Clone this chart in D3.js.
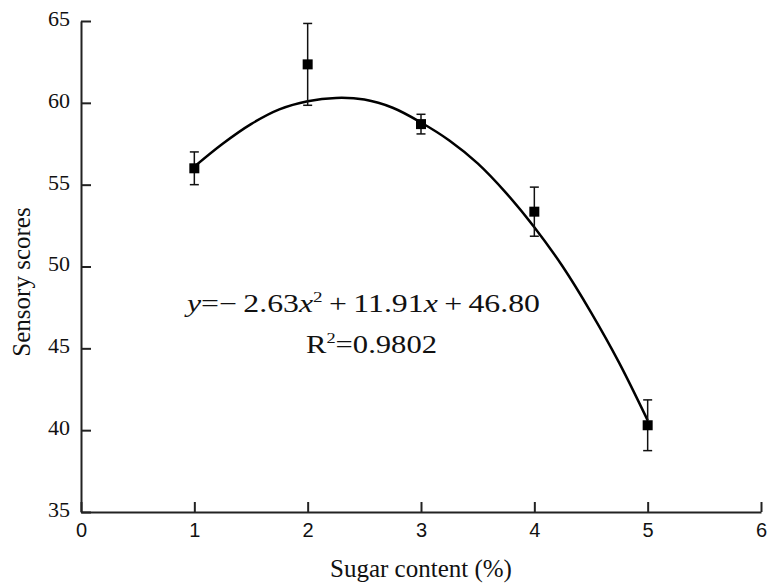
<!DOCTYPE html>
<html lang="en">
<head>
<meta charset="UTF-8">
<title>Sensory scores vs sugar content</title>
<script src="https://d3js.org/d3.v7.min.js"></script>
<style>
    body { margin: 0; padding: 0; background: #fff; }
    .serif { font-family: "Liberation Serif", "Times New Roman", serif; fill: #111; }
    .axis path, .axis line { stroke: #222; stroke-width: 2px; }
    .x-axis text { font-family: "Liberation Sans", Arial, sans-serif; font-size: 20px; fill: #111; }
    .y-axis text { font-family: "Liberation Serif", "Times New Roman", serif; font-size: 22px; fill: #111; }
    .fit { fill: none; stroke: #000; stroke-width: 2.5px; }
    .err { stroke: #111; stroke-width: 1.5px; }
</style>
</head>
<body>
<div id="chart"></div>
<script>
    // data
    var sugar = [1, 2, 3, 4, 5];
    var scores = [56.0, 62.35, 58.7, 53.35, 40.3];
    var errors = [1.0, 2.5, 0.6, 1.5, 1.55];

    // fitted curve
    var fitX = [1, 1.25, 1.5, 1.75, 2, 2.25, 2.5, 2.75, 3, 3.25, 3.5, 3.75, 4, 4.25, 4.5, 4.75, 5];
    var fitY = [56.1, 57.5, 58.7, 59.6, 60.1, 60.3, 60.2, 59.7, 58.8, 57.7, 56.3, 54.5, 52.4, 50.0, 47.2, 44.1, 40.6];

    var xTicks = [0, 1, 2, 3, 4, 5, 6];
    var yTicks = [35, 40, 45, 50, 55, 60, 65];

    var width = 767, height = 585;
    var margin = {top: 21, right: 6, bottom: 73, left: 81};
    var w = width - margin.left - margin.right,
        h = height - margin.top - margin.bottom;

    var svg = d3.select("#chart").append("svg")
        .attr("width", width)
        .attr("height", height);

    var g = svg.append("g")
        .attr("transform", "translate(" + margin.left + "," + margin.top + ")");

    var x = d3.scaleLinear().domain([0, 6]).range([0, w]);
    var y = d3.scaleLinear().domain([35, 65]).range([h, 0]);

    // axes, ticks point inward
    g.append("g")
        .attr("class", "axis x-axis")
        .attr("transform", "translate(0," + h + ")")
        .call(d3.axisBottom(x).tickValues(xTicks).tickFormat(d3.format("d"))
            .tickSizeInner(-10).tickSizeOuter(0).tickPadding(11));

    g.append("g")
        .attr("class", "axis y-axis")
        .call(d3.axisLeft(y).tickValues(yTicks).tickFormat(d3.format("d"))
            .tickSizeInner(-10).tickSizeOuter(0).tickPadding(11))
        .selectAll("text")
        .attr("dy", "0.2em");

    // fitted curve
    var fit = fitX.map(function(d, i) { return {x: d, y: fitY[i]}; });
    g.append("path")
        .datum(fit)
        .attr("class", "fit")
        .attr("d", d3.line()
            .x(function(d) { return x(d.x); })
            .y(function(d) { return y(d.y); })
            .curve(d3.curveCatmullRom));

    // error bars
    var pts = sugar.map(function(d, i) { return {x: d, y: scores[i], e: errors[i]}; });
    var cap = 4.5;
    var eb = g.selectAll(".eb").data(pts).enter().append("g").attr("class", "eb");
    eb.append("line").attr("class", "err")
        .attr("x1", function(d) { return x(d.x); })
        .attr("x2", function(d) { return x(d.x); })
        .attr("y1", function(d) { return y(d.y + d.e); })
        .attr("y2", function(d) { return y(d.y - d.e); });
    eb.append("line").attr("class", "err")
        .attr("x1", function(d) { return x(d.x) - cap; })
        .attr("x2", function(d) { return x(d.x) + cap; })
        .attr("y1", function(d) { return y(d.y + d.e); })
        .attr("y2", function(d) { return y(d.y + d.e); });
    eb.append("line").attr("class", "err")
        .attr("x1", function(d) { return x(d.x) - cap; })
        .attr("x2", function(d) { return x(d.x) + cap; })
        .attr("y1", function(d) { return y(d.y - d.e); })
        .attr("y2", function(d) { return y(d.y - d.e); });

    // square markers
    g.selectAll(".pt").data(pts).enter().append("rect")
        .attr("class", "pt")
        .attr("x", function(d) { return x(d.x) - 5; })
        .attr("y", function(d) { return y(d.y) - 5; })
        .attr("width", 10)
        .attr("height", 10)
        .attr("fill", "#000");

    // axis titles
    svg.append("text")
        .attr("class", "serif")
        .attr("x", 421)
        .attr("y", 577)
        .attr("text-anchor", "middle")
        .style("font-size", "25px")
        .text("Sugar content (%)");

    svg.append("text")
        .attr("class", "serif")
        .attr("transform", "translate(30,282) rotate(-90)")
        .attr("text-anchor", "middle")
        .style("font-size", "25px")
        .text("Sensory scores");

    // equation (the original is drawn a little wide, hence textLength)
    var eq = svg.append("text")
        .attr("class", "serif")
        .attr("x", 187)
        .attr("y", 312)
        .attr("textLength", 353)
        .attr("lengthAdjust", "spacingAndGlyphs")
        .style("font-size", "25px");
    eq.append("tspan").style("font-style", "italic").text("y");
    eq.append("tspan").text("=\u2212\u20092.63");
    eq.append("tspan").style("font-style", "italic").text("x");
    eq.append("tspan").attr("dy", -10).style("font-size", "15px").text("2");
    eq.append("tspan").attr("dy", 10).text("\u2009+\u200911.91");
    eq.append("tspan").style("font-style", "italic").text("x");
    eq.append("tspan").text("\u2009+\u200946.80");

    var r2 = svg.append("text")
        .attr("class", "serif")
        .attr("x", 306)
        .attr("y", 353)
        .attr("textLength", 131)
        .attr("lengthAdjust", "spacingAndGlyphs")
        .style("font-size", "25px");
    r2.append("tspan").text("R");
    r2.append("tspan").attr("dy", -10).style("font-size", "15px").text("2");
    r2.append("tspan").attr("dy", 10).text("=0.9802");
</script>
</body>
</html>
